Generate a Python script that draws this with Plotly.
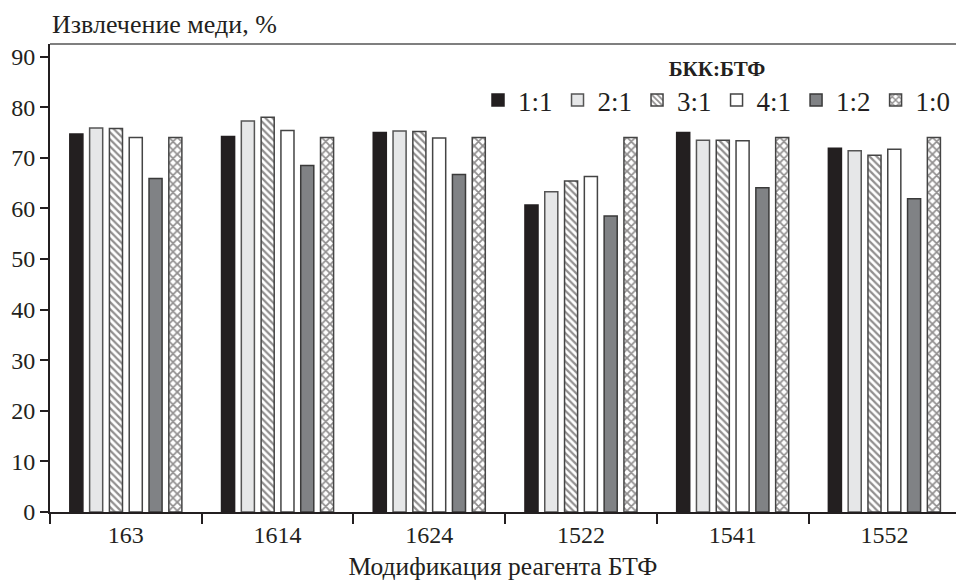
import plotly.graph_objects as go

categories = ["163", "1614", "1624", "1522", "1541", "1552"]
series_names = ["1:1", "2:1", "3:1", "4:1", "1:2", "1:0"]
v_1_1 = [74.7, 74.2, 75.0, 60.7, 75.0, 71.9]
v_2_1 = [75.9, 77.3, 75.3, 63.3, 73.5, 71.4]
v_3_1 = [75.8, 78.0, 75.2, 65.4, 73.5, 70.5]
v_4_1 = [74.0, 75.4, 73.9, 66.3, 73.4, 71.7]
v_1_2 = [65.9, 68.5, 66.7, 58.5, 64.1, 61.9]
v_1_0 = [74.0, 74.0, 74.0, 74.0, 74.0, 74.0]
series_values = [v_1_1, v_2_1, v_3_1, v_4_1, v_1_2, v_1_0]
y_ticks = [0, 10, 20, 30, 40, 50, 60, 70, 80, 90]

fills = ["#231f20", "#e6e7e8", "#ffffff", "#ffffff", "#808285", "#ffffff"]
patterns = ["", "", "\\", "", "", "x"]
lines = ["#231f20", "#555555", "#444444", "#444444", "#3a3a3a", "#444444"]

FONT = "Liberation Serif"

fig = go.Figure()
for name, vals, fc, pat, lc in zip(series_names, series_values, fills, patterns, lines):
    marker = dict(color=fc, line=dict(color=lc, width=1.5))
    if pat:
        marker["pattern"] = dict(shape=pat, fgcolor="#231f20", bgcolor="#ffffff",
                                 size=5 if pat == "\\" else 6,
                                 solidity=0.45 if pat == "\\" else 0.5,
                                 fillmode="overlay")
    fig.add_trace(go.Bar(x=categories, y=vals, name=name, marker=marker))

fig.update_layout(
    width=956, height=583,
    margin=dict(l=50, r=0, t=44, b=71),
    paper_bgcolor="white", plot_bgcolor="white",
    barmode="group", bargap=0.217, bargroupgap=0.34,
    font=dict(family=FONT, size=24, color="#231f20"),
    showlegend=True,
    legend=dict(orientation="h", x=1, xanchor="right", y=0.99, yanchor="top",
                title=dict(text="<b>БКК:БТФ</b>", side="top center",
                           font=dict(family=FONT, size=21, color="#231f20")),
                font=dict(family=FONT, size=27, color="#231f20"),
                bgcolor="rgba(0,0,0,0)", itemclick=False, tracegroupgap=0),
    xaxis=dict(range=[-0.5, 5.472], showline=True, linecolor="#231f20", linewidth=2,
               ticks="outside", tickson="boundaries", ticklen=10, tickwidth=2,
               tickcolor="#231f20", showgrid=False, zeroline=False,
               tickfont=dict(family=FONT, size=24),
               title=dict(text="Модификация реагента БТФ", standoff=10,
                          font=dict(family=FONT, size=25.5))),
    yaxis=dict(range=[0, 92.5], tickvals=y_ticks, showline=True, linecolor="#231f20",
               linewidth=2, ticks="outside", ticklen=8, tickwidth=2, tickcolor="#231f20",
               showgrid=False, zeroline=False, tickfont=dict(family=FONT, size=24)),
)

fig.add_shape(type="line", xref="paper", yref="paper", x0=0, x1=1, y0=1, y1=1,
              line=dict(color="#555555", width=1.5))
fig.add_annotation(text="Извлечение меди, %", xref="paper", yref="paper",
                   x=0, y=1.0406, xanchor="left", yanchor="middle", showarrow=False,
                   font=dict(family=FONT, size=26, color="#231f20"))

fig.write_html("out.html")
